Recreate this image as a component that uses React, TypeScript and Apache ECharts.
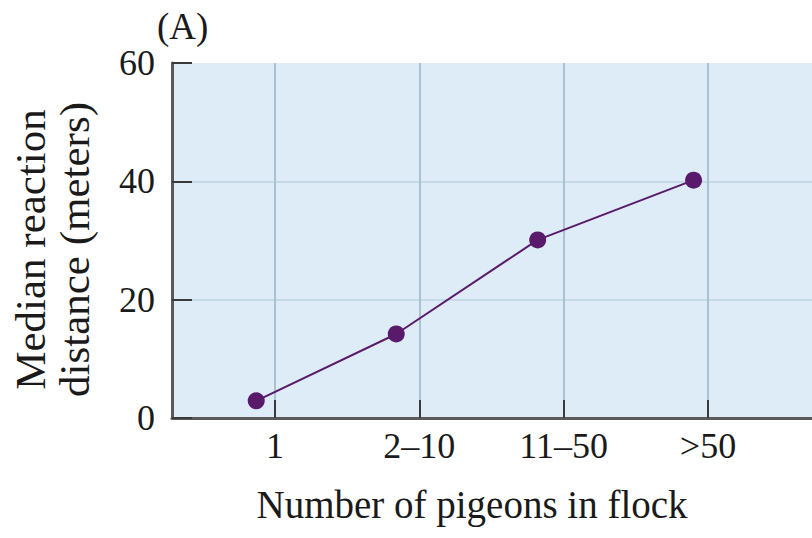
import React, { useEffect, useRef } from "react";
import * as echarts from "echarts";

const categories = ["1", "2–10", "11–50", ">50"];
const tickValues = [1, 2, 3, 4];
const pointX = [0.87, 1.84, 2.82, 3.9];
const medianDistance = [2.9, 14.2, 30.1, 40.2];

const FONT = "'Liberation Serif', 'Times New Roman', serif";

export default function App() {
  const ref = useRef<HTMLDivElement>(null);
  useEffect(() => {
    if (!ref.current) return;
    const chart = echarts.init(ref.current, undefined, { renderer: "svg" });
    const data = pointX.map((x, i) => [x, medianDistance[i]]);
    chart.setOption({
      animation: false,
      backgroundColor: "#ffffff",
      title: {
        text: "(A)",
        left: 152,
        top: 3,
        textStyle: { fontFamily: FONT, fontSize: 37, fontWeight: "normal", color: "#1a1a1a" },
      },
      grid: {
        left: 172,
        top: 63,
        right: 0,
        bottom: 120,
        show: true,
        backgroundColor: "#ddecf6",
        borderWidth: 0,
      },
      xAxis: {
        type: "value",
        min: 0.2864,
        max: 4.7205,
        splitNumber: 5,
        name: "Number of pigeons in flock",
        nameLocation: "middle",
        nameGap: 67,
        nameTextStyle: {
          fontFamily: FONT,
          fontSize: 39,
          color: "#1a1a1a",
          padding: [0, 40, 0, 0],
        },
        axisLine: { show: true, lineStyle: { color: "#5a5a5a", width: 3 } },
        axisTick: { show: true, inside: true, length: 18, lineStyle: { color: "#3a3a3a", width: 2 } },
        axisLabel: {
          margin: 10,
          fontFamily: FONT,
          fontSize: 36,
          color: "#1a1a1a",
          showMinLabel: false,
          showMaxLabel: false,
          formatter: (v: number) => {
            const idx = tickValues.indexOf(Math.round(v * 1000) / 1000);
            return idx >= 0 ? categories[idx] : "";
          },
        },
        splitLine: {
          show: true,
          showMinLine: false,
          showMaxLine: false,
          lineStyle: { color: "#a9c1d3", width: 2 },
        },
      },
      yAxis: {
        type: "value",
        min: 0,
        max: 60,
        interval: 20,
        name: "Median reaction\ndistance (meters)",
        nameLocation: "middle",
        nameGap: 76,
        nameTextStyle: {
          fontFamily: FONT,
          fontSize: 43,
          lineHeight: 44,
          color: "#1a1a1a",
          padding: [0, 18, 0, 0],
        },
        axisLine: { show: true, lineStyle: { color: "#5a5a5a", width: 3 } },
        axisTick: { show: true, inside: true, length: 20, lineStyle: { color: "#3a3a3a", width: 2 } },
        axisLabel: {
          margin: 17,
          fontFamily: FONT,
          fontSize: 36,
          color: "#1a1a1a",
        },
        splitLine: {
          show: true,
          showMinLine: false,
          showMaxLine: false,
          lineStyle: { color: "#c6d9e7", width: 2 },
        },
      },
      series: [
        {
          type: "line",
          data,
          symbol: "circle",
          symbolSize: 17,
          itemStyle: { color: "#5a1a6c" },
          lineStyle: { color: "#5a1a6c", width: 2 },
        },
      ],
    });
    return () => chart.dispose();
  }, []);
  return (
    <div
      ref={ref}
      style={{ position: "absolute", left: 0, top: 0, width: 812, height: 538 }}
    />
  );
}
